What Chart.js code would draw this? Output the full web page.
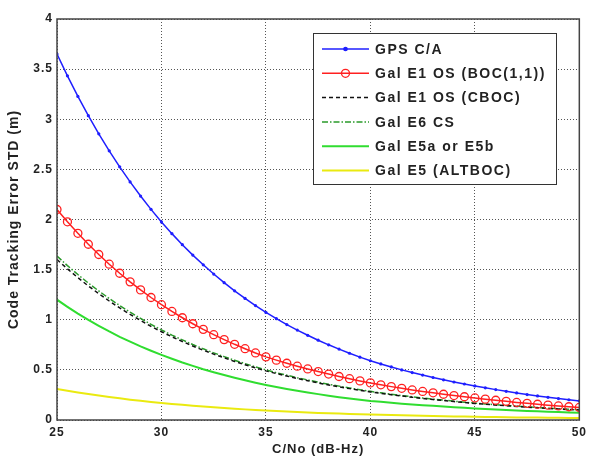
<!DOCTYPE html>
<html>
<head>
<meta charset="utf-8">
<script src="https://cdn.jsdelivr.net/npm/chart.js@4.4.1/dist/chart.umd.min.js"></script>
<style>
  html, body { margin: 0; padding: 0; background: #fff; }
  #wrap { width: 591px; height: 457px; }
</style>
</head>
<body>
<div id="wrap"><canvas id="trackChart" width="591" height="457"></canvas></div>
<script>
/* Code tracking error STD vs C/N0 for GPS and Galileo signals. */

const cn0 = [25, 25.5, 26, 26.5, 27, 27.5, 28, 28.5, 29, 29.5, 30, 30.5, 31, 31.5, 32, 32.5, 33, 33.5, 34, 34.5,
    35, 35.5, 36, 36.5, 37, 37.5, 38, 38.5, 39, 39.5, 40, 40.5, 41, 41.5, 42, 42.5, 43, 43.5, 44, 44.5,
    45, 45.5, 46, 46.5, 47, 47.5, 48, 48.5, 49, 49.5, 50];

const gpsCA = [3.650, 3.433, 3.228, 3.036, 2.855, 2.685, 2.525, 2.375, 2.234, 2.101, 1.976, 1.859, 1.749, 1.645, 1.548, 1.456, 1.370, 1.289, 1.213, 1.141,
    1.073, 1.011, 0.952, 0.897, 0.845, 0.796, 0.750, 0.707, 0.666, 0.627, 0.591, 0.559, 0.529, 0.500, 0.473, 0.448, 0.424, 0.401, 0.379, 0.359,
    0.340, 0.321, 0.303, 0.286, 0.270, 0.254, 0.240, 0.226, 0.214, 0.202, 0.190];

const e1Boc = [2.100, 1.977, 1.862, 1.753, 1.651, 1.554, 1.464, 1.378, 1.298, 1.222, 1.150, 1.083, 1.020, 0.960, 0.904, 0.851, 0.802, 0.755, 0.711, 0.669,
    0.630, 0.597, 0.566, 0.537, 0.509, 0.483, 0.458, 0.434, 0.412, 0.390, 0.370, 0.351, 0.333, 0.316, 0.300, 0.285, 0.271, 0.257, 0.244, 0.232,
    0.220, 0.208, 0.197, 0.186, 0.175, 0.166, 0.157, 0.148, 0.140, 0.132, 0.125];

const e1Cboc = [1.600, 1.507, 1.420, 1.337, 1.260, 1.187, 1.118, 1.053, 0.992, 0.934, 0.880, 0.830, 0.783, 0.738, 0.696, 0.657, 0.620, 0.584, 0.551, 0.520,
    0.490, 0.463, 0.438, 0.414, 0.392, 0.370, 0.350, 0.331, 0.313, 0.296, 0.280, 0.266, 0.252, 0.239, 0.227, 0.215, 0.204, 0.194, 0.184, 0.174,
    0.165, 0.157, 0.149, 0.142, 0.135, 0.128, 0.122, 0.116, 0.110, 0.105, 0.100];

const e6Cs = [1.635, 1.540, 1.451, 1.366, 1.287, 1.212, 1.142, 1.075, 1.013, 0.954, 0.898, 0.847, 0.799, 0.753, 0.710, 0.670, 0.632, 0.596, 0.562, 0.530,
    0.500, 0.472, 0.447, 0.422, 0.400, 0.377, 0.357, 0.338, 0.319, 0.302, 0.286, 0.271, 0.257, 0.244, 0.232, 0.219, 0.208, 0.198, 0.188, 0.177,
    0.168, 0.160, 0.152, 0.145, 0.138, 0.131, 0.124, 0.118, 0.112, 0.107, 0.102];

const e5ab = [1.200, 1.129, 1.061, 0.998, 0.939, 0.883, 0.830, 0.781, 0.734, 0.691, 0.650, 0.611, 0.574, 0.540, 0.507, 0.477, 0.448, 0.421, 0.396, 0.372,
    0.350, 0.329, 0.310, 0.291, 0.274, 0.258, 0.242, 0.228, 0.214, 0.202, 0.190, 0.181, 0.172, 0.163, 0.155, 0.148, 0.141, 0.134, 0.127, 0.121,
    0.115, 0.110, 0.105, 0.100, 0.095, 0.091, 0.087, 0.083, 0.079, 0.075, 0.072];

const e5Altboc = [0.310, 0.292, 0.275, 0.259, 0.244, 0.230, 0.216, 0.203, 0.191, 0.180, 0.170, 0.160, 0.151, 0.142, 0.134, 0.127, 0.119, 0.112, 0.106, 0.100,
    0.095, 0.090, 0.085, 0.080, 0.075, 0.071, 0.067, 0.064, 0.061, 0.058, 0.055, 0.052, 0.049, 0.047, 0.044, 0.042, 0.040, 0.038, 0.036, 0.034,
    0.033, 0.031, 0.029, 0.028, 0.026, 0.025, 0.024, 0.023, 0.022, 0.021, 0.020];

const xTicks = [25, 30, 35, 40, 45, 50];
const yTicks = [0, 0.5, 1, 1.5, 2, 2.5, 3, 3.5, 4];

const pts = (ys) => cn0.map((x, i) => ({ x: x, y: ys[i] }));

const FONT = 'Liberation Sans, Arial, sans-serif';

// slightly wider text everywhere
const textSpacing = {
    id: 'textSpacing',
    beforeDraw(chart) { chart.ctx.letterSpacing = '1px'; }
};

// legend drawn inside the plot, matlab style
const legendBox = {
    id: 'legendBox',
    afterDraw(chart) {
        const ctx = chart.ctx;
        const x0 = 313, y0 = 33, w = 243, h = 151;
        ctx.save();
        ctx.fillStyle = '#fff';
        ctx.fillRect(x0, y0, w, h);
        ctx.strokeStyle = '#333';
        ctx.lineWidth = 1;
        ctx.strokeRect(x0 + 0.5, y0 + 0.5, w, h);
        chart.data.datasets.forEach((ds, i) => {
            const y = y0 + 16 + i * 24.3;
            ctx.strokeStyle = ds.borderColor;
            ctx.lineWidth = ds.borderWidth;
            ctx.setLineDash(ds.borderDash || []);
            ctx.beginPath();
            ctx.moveTo(322, y);
            ctx.lineTo(369, y);
            ctx.stroke();
            ctx.setLineDash([]);
            if (ds.pointRadius > 0) {
                ctx.beginPath();
                ctx.arc(345.5, y, ds.pointRadius, 0, Math.PI * 2);
                ctx.fillStyle = ds.pointBackgroundColor;
                ctx.fill();
                ctx.strokeStyle = ds.pointBorderColor;
                ctx.lineWidth = ds.pointBorderWidth;
                ctx.stroke();
            }
            ctx.fillStyle = '#222';
            ctx.font = 'bold 14px ' + FONT;
            ctx.letterSpacing = '1.5px';
            ctx.textBaseline = 'middle';
            ctx.fillText(ds.label, 375, y + 1);
        });
        ctx.restore();
    }
};

// box around the axes
const axesFrame = {
    id: 'axesFrame',
    afterDatasetsDraw(chart) {
        const a = chart.chartArea;
        const ctx = chart.ctx;
        ctx.save();
        ctx.strokeStyle = '#444';
        ctx.lineWidth = 1.5;
        ctx.strokeRect(a.left, a.top, a.right - a.left, a.bottom - a.top);
        ctx.restore();
    }
};

new Chart(document.getElementById('trackChart'), {
    type: 'line',
    data: {
        datasets: [
            { label: 'GPS C/A', data: pts(gpsCA), borderColor: '#1f1fff', borderWidth: 1.5,
              pointRadius: 1.6, pointBackgroundColor: '#1f1fff', pointBorderColor: '#1f1fff', pointBorderWidth: 0 },
            { label: 'Gal E1 OS (BOC(1,1))', data: pts(e1Boc), borderColor: '#ff2020', borderWidth: 1.5,
              pointRadius: 4, pointBackgroundColor: 'rgba(255,255,255,0)', pointBorderColor: '#ff2020', pointBorderWidth: 1.3 },
            { label: 'Gal E1 OS (CBOC)', data: pts(e1Cboc), borderColor: '#111', borderWidth: 1.5,
              borderDash: [4, 3], pointRadius: 0 },
            { label: 'Gal E6 CS', data: pts(e6Cs), borderColor: '#2a9a2a', borderWidth: 1.5,
              borderDash: [6, 2, 1.5, 2], pointRadius: 0 },
            { label: 'Gal E5a or E5b', data: pts(e5ab), borderColor: '#30dd30', borderWidth: 2,
              pointRadius: 0 },
            { label: 'Gal E5 (ALTBOC)', data: pts(e5Altboc), borderColor: '#eaea10', borderWidth: 2,
              pointRadius: 0 },
        ],
    },
    options: {
        responsive: false,
        animation: false,
        events: [],
        layout: { padding: { top: 19, right: 8, left: 0, bottom: 0 } },
        plugins: { legend: { display: false }, tooltip: { enabled: false } },
        scales: {
            x: {
                type: 'linear',
                min: 25, max: 50,
                afterBuildTicks: (s) => { s.ticks = xTicks.map(v => ({ value: v })); },
                afterFit: (s) => { s.height = 37; },
                grid: { color: '#555', drawTicks: false },
                border: { display: false, dash: [1, 2] },
                ticks: { color: '#222', padding: 5, callback: (v) => String(v),
                         font: { family: FONT, size: 12, weight: 'bold' } },
                title: { display: true, text: 'C/No (dB-Hz)', color: '#222', padding: { top: 1, bottom: 0 },
                         font: { family: FONT, size: 13, weight: 'bold' } },
            },
            y: {
                min: 0, max: 4,
                afterBuildTicks: (s) => { s.ticks = yTicks.map(v => ({ value: v })); },
                afterFit: (s) => { s.width = 57; },
                grid: { color: '#555', drawTicks: false },
                border: { display: false, dash: [1, 2] },
                ticks: { color: '#222', padding: 4, callback: (v) => String(v),
                         font: { family: FONT, size: 12, weight: 'bold' } },
                title: { display: true, text: 'Code Tracking Error STD (m)', color: '#222', padding: { top: 6, bottom: 0 },
                         font: { family: FONT, size: 14, weight: 'bold' } },
            },
        },
    },
    plugins: [textSpacing, axesFrame, legendBox],
});
</script>
</body>
</html>
